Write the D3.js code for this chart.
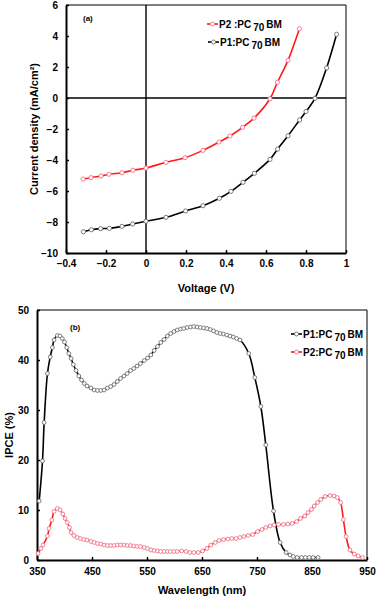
<!DOCTYPE html>
<html lang="en">
<head>
  <meta charset="utf-8">
  <title>J-V and IPCE</title>
  <style>
    body { margin: 0; background: #fff; }
    text { font-family: "Liberation Sans", Arial, sans-serif; font-weight: bold; fill: #000; }
    .axis .domain { stroke: #000; stroke-width: 2px; }
    .axis .tick line { stroke: #000; stroke-width: 1.5px; }
    .axis .tick text { font-size: 10px; }
  </style>
</head>
<body>
  <script src="https://d3js.org/d3.v7.min.js"></script>
  <svg></svg>
  <script>

// ---- (a) J-V curves ----
var voltageP1 = [-0.313,-0.273,-0.227,-0.183,-0.12,-0.067,0,0.1,0.198,0.285,0.367,0.425,0.485,0.542,0.62,0.658,0.71,0.768,0.8,0.845,0.903,0.953];
var currentP1 = [-8.63,-8.50,-8.43,-8.41,-8.28,-8.13,-7.95,-7.70,-7.29,-6.95,-6.47,-6.02,-5.44,-4.86,-3.96,-3.30,-2.44,-1.42,-0.87,-0.02,1.94,4.11];
var voltageP2 = [-0.315,-0.275,-0.225,-0.185,-0.12,-0.065,0,0.1,0.195,0.285,0.365,0.42,0.483,0.54,0.62,0.657,0.71,0.767];
var currentP2 = [-5.23,-5.14,-5.03,-4.92,-4.82,-4.66,-4.52,-4.15,-3.85,-3.38,-2.84,-2.45,-1.89,-1.30,-0.05,1.01,2.43,4.47];
var voltageTicks = [-0.4,-0.2,0,0.2,0.4,0.6,0.8,1];
var currentTicks = [-10,-8,-6,-4,-2,0,2,4,6];

// ---- (b) IPCE ----
var wavelengthP1 = [354,360,363,369,374,378,381,387,392,396,400,404,408,412,416,421,426,431,436,441,448,454,460,466,472,478,484,490,496,502,508,514,520,526,532,538,545,551,557,563,569,575,581,587,593,599,605,611,617,623,629,635,641,647,653,659,665,671,677,683,689,695,701,707,713,719,735,746,757,766,780,792,803,810,816,823,831,838,845,852,861];
var ipceP1 = [11.8,19.8,27.5,37.3,40.6,42.5,44.0,44.9,44.8,44.3,43.6,42.5,41.3,40.3,39.1,37.9,36.8,36.0,35.3,34.8,34.4,34.0,33.9,33.9,34.0,34.4,34.7,35.1,35.7,36.3,36.8,37.3,37.9,38.3,38.8,39.3,39.9,40.4,41.0,41.9,42.7,43.5,44.1,44.8,45.3,45.7,46.0,46.2,46.3,46.5,46.6,46.7,46.6,46.5,46.4,46.3,46.1,45.8,45.5,45.3,45.2,45.0,44.8,44.6,44.3,44.0,41.3,36.5,30.7,23.0,9.8,3.5,1.5,1.0,0.7,0.5,0.5,0.5,0.5,0.5,0.5];
var wavelengthP2 = [352,357,361,369,372,377,381,387,392,397,401,405,409,412,417,423,429,435,441,448,454,460,466,472,478,484,490,496,502,508,514,520,526,532,538,545,551,557,563,569,575,581,587,593,599,605,613,621,628,635,643,651,659,666,674,681,689,697,704,712,719,726,734,742,751,759,766,774,781,789,798,806,814,822,829,837,843,849,854,860,866,874,883,890,896,902,907,912,919,927,934,942];
var ipceP2 = [1.3,2.3,3.0,4.8,6.3,8.0,9.7,10.3,10.0,9.2,8.3,7.5,6.5,5.5,4.9,4.5,4.3,4.1,4.0,3.7,3.5,3.3,3.2,3.0,2.9,2.9,2.9,3.0,3.0,3.0,2.9,2.9,2.8,2.7,2.7,2.5,2.3,2.0,1.9,1.8,1.7,1.7,1.7,1.7,1.7,1.7,1.8,1.7,1.5,1.5,1.5,1.8,2.3,3.0,3.5,3.9,4.1,4.2,4.3,4.3,4.5,4.7,4.9,5.1,5.7,6.1,6.5,6.8,7.0,7.1,7.1,7.2,7.3,7.7,8.3,8.8,9.5,10.1,10.8,11.5,12.1,12.7,12.9,12.8,12.5,11.5,8.1,4.7,2.0,1.2,0.8,0.5];
var wavelengthTicks = [350,450,550,650,750,850,950];
var ipceTicks = [0,10,20,30,40,50];

var width = 378, height = 598;
var black = '#000', blackMarker = '#6e6e6e', red = '#ff1a1a', redMarker = '#f0708a';

var svg = d3.select('svg').attr('width', width).attr('height', height);

function zip(xs, ys) { return xs.map(function(x, i) { return [x, ys[i]]; }); }

// draws one series: smooth line plus open circle markers
function series(g, x, y, data, lineColor, markerColor, r) {
  var line = d3.line().x(function(d) { return x(d[0]); }).y(function(d) { return y(d[1]); })
               .curve(d3.curveCatmullRom);
  g.append('path').datum(data).attr('d', line)
   .attr('fill', 'none').attr('stroke', lineColor).attr('stroke-width', 1.6);
  g.selectAll(null).data(data).enter().append('circle')
   .attr('cx', function(d) { return x(d[0]); })
   .attr('cy', function(d) { return y(d[1]); })
   .attr('r', r).attr('fill', '#fff')
   .attr('stroke', markerColor).attr('stroke-width', 0.9);
}

function legendItem(g, x0, yc, lineColor, markerColor, label) {
  g.append('line').attr('x1', x0).attr('x2', x0 + 11).attr('y1', yc).attr('y2', yc)
   .attr('stroke', lineColor).attr('stroke-width', 1.6);
  g.append('circle').attr('cx', x0 + 5.5).attr('cy', yc).attr('r', 2)
   .attr('fill', '#fff').attr('stroke', markerColor).attr('stroke-width', 0.9);
  var t = g.append('text').attr('x', x0 + 12).attr('y', yc + 3.5).attr('font-size', '10px');
  t.append('tspan').text(label);
  t.append('tspan').attr('dy', 3).attr('dx', 2).text('70');
  t.append('tspan').attr('dy', -3).attr('dx', 2).text('BM');
}

// ===== (a) =====
var xA = d3.scaleLinear().domain([-0.4, 1]).range([66, 346]);
var yA = d3.scaleLinear().domain([-10, 6]).range([253, 5]);
var gA = svg.append('g');

// frame top/right
gA.append('line').attr('x1', 66).attr('x2', 346).attr('y1', yA(6)).attr('y2', yA(6)).attr('stroke', '#000').attr('stroke-width', 1);
gA.append('line').attr('x1', 346).attr('x2', 346).attr('y1', 5).attr('y2', 253).attr('stroke', '#000').attr('stroke-width', 1);
// zero lines
gA.append('line').attr('x1', 66).attr('x2', 346).attr('y1', yA(0)).attr('y2', yA(0)).attr('stroke', '#000').attr('stroke-width', 1.4);
gA.append('line').attr('x1', xA(0)).attr('x2', xA(0)).attr('y1', 5).attr('y2', 253).attr('stroke', '#000').attr('stroke-width', 1.4);

gA.append('g').attr('class', 'axis').attr('transform', 'translate(0,253)')
  .call(d3.axisBottom(xA).tickValues(voltageTicks).tickSize(-3).tickSizeOuter(0).tickPadding(7)
        .tickFormat(function(d) { return d3.format('')(d); }));
gA.append('g').attr('class', 'axis').attr('transform', 'translate(66,0)')
  .call(d3.axisLeft(yA).tickValues(currentTicks).tickSize(-3).tickSizeOuter(0).tickPadding(8));

series(gA, xA, yA, zip(voltageP1, currentP1), black, blackMarker, 2.1);
series(gA, xA, yA, zip(voltageP2, currentP2), red, redMarker, 2.1);

gA.append('text').attr('x', 83).attr('y', 21).attr('font-size', '8px').text('(a)');
legendItem(gA, 207, 24, red, redMarker, 'P2 :PC');
legendItem(gA, 208, 42, black, blackMarker, 'P1:PC');

gA.append('text').attr('x', 206).attr('y', 292).attr('text-anchor', 'middle').attr('font-size', '11px').text('Voltage (V)');
gA.append('text').attr('transform', 'translate(38,129) rotate(-90)').attr('text-anchor', 'middle')
  .attr('font-size', '11px').text('Current density (mA/cm²)');

// ===== (b) =====
var xB = d3.scaleLinear().domain([350, 950]).range([37, 367]);
var yB = d3.scaleLinear().domain([0, 50]).range([560, 310]);
var gB = svg.append('g');

gB.append('line').attr('x1', 37).attr('x2', 367).attr('y1', 310).attr('y2', 310).attr('stroke', '#000').attr('stroke-width', 1);
gB.append('line').attr('x1', 367).attr('x2', 367).attr('y1', 310).attr('y2', 560).attr('stroke', '#000').attr('stroke-width', 1);

gB.append('g').attr('class', 'axis').attr('transform', 'translate(0,560)')
  .call(d3.axisBottom(xB).tickValues(wavelengthTicks).tickSize(-3).tickSizeOuter(0).tickPadding(8));
gB.append('g').attr('class', 'axis').attr('transform', 'translate(37,0)')
  .call(d3.axisLeft(yB).tickValues(ipceTicks).tickSize(-3).tickSizeOuter(0).tickPadding(8));

series(gB, xB, yB, zip(wavelengthP1, ipceP1), black, blackMarker, 1.9);
series(gB, xB, yB, zip(wavelengthP2, ipceP2), red, redMarker, 1.9);

gB.append('text').attr('x', 70).attr('y', 330).attr('font-size', '8px').text('(b)');
legendItem(gB, 291, 334, black, blackMarker, 'P1:PC');
legendItem(gB, 291, 352, red, redMarker, 'P2:PC');

gB.append('text').attr('x', 202).attr('y', 594).attr('text-anchor', 'middle').attr('font-size', '11px').text('Wavelength (nm)');
gB.append('text').attr('transform', 'translate(13,435) rotate(-90)').attr('text-anchor', 'middle')
  .attr('font-size', '11px').text('IPCE (%)');

  </script>
</body>
</html>
